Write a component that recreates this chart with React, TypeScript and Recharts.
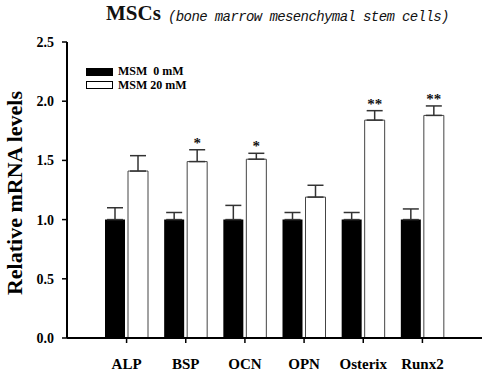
import React from 'react';
import {
  BarChart,
  Bar,
  XAxis,
  YAxis,
  ErrorBar,
  Legend,
  LabelList,
} from 'recharts';

// 遺伝子ごとの相対 mRNA 量
const genes = ['ALP', 'BSP', 'OCN', 'OPN', 'Osterix', 'Runx2'];
const msm0 = [1.0, 1.0, 1.0, 1.0, 1.0, 1.0];
const msm0Err = [0.1, 0.06, 0.12, 0.06, 0.06, 0.09];
const msm20 = [1.41, 1.49, 1.51, 1.19, 1.84, 1.88];
const msm20Err = [0.13, 0.1, 0.05, 0.1, 0.08, 0.08];
const signif = ['', '*', '*', '', '**', '**'];
const yTicks = [0, 0.5, 1.0, 1.5, 2.0, 2.5];

const SERIF = '"Liberation Serif", "Times New Roman", serif';

const data = genes.map((name, i) => ({
  name,
  msm0: msm0[i],
  msm0Err: [0, msm0Err[i]],
  msm20: msm20[i],
  msm20Err: [0, msm20Err[i]],
  sig: signif[i],
}));

// 凡例（プロット内の左上）
const renderLegend = () => (
  <div style={{ fontFamily: SERIF, fontWeight: 'bold', fontSize: 12, color: '#000' }}>
    {[
      { label: 'MSM\u00a0\u00a00 mM', fill: '#000' },
      { label: 'MSM 20 mM', fill: '#fff' },
    ].map((item) => (
      <div key={item.label} style={{ display: 'flex', alignItems: 'center', height: 13.5 }}>
        <span
          style={{
            display: 'inline-block',
            width: 25,
            height: 6,
            background: item.fill,
            border: '1px solid #000',
            marginRight: 5,
          }}
        />
        <span style={{ whiteSpace: 'pre' }}>{item.label}</span>
      </div>
    ))}
  </div>
);

// 有意差の星印（エラーバーの上）
const renderStars = (props: any) => {
  const { x, y, width, height, value, index } = props;
  if (!value) return null;
  const errTop = y - (height * msm20Err[index]) / msm20[index];
  return (
    <text
      x={x + width / 2}
      y={errTop - 2}
      textAnchor="middle"
      fontFamily={SERIF}
      fontWeight="bold"
      fontSize={15}
      fill="#111"
    >
      {value}
    </text>
  );
};

export default function App() {
  return (
    <div style={{ position: 'absolute', left: 0, top: 0, width: 490, height: 382, background: '#fff' }}>
      <svg width={490} height={36} style={{ position: 'absolute', left: 0, top: 0 }}>
        <text x={106} y={20} fontFamily={SERIF} fontWeight="bold" fontSize={21} fill="#111">
          MSCs
        </text>
        <text
          x={168}
          y={21}
          fontFamily='"Liberation Mono", "DejaVu Sans Mono", monospace'
          fontStyle="italic"
          fontSize={14}
          letterSpacing={-0.6}
          fill="#111"
        >
          (bone marrow mesenchymal stem cells)
        </text>
      </svg>
      <BarChart
        width={490}
        height={382}
        data={data}
        margin={{ top: 42, right: 8, bottom: 14, left: 10 }}
        barSize={20}
        barGap={3}
      >
        <XAxis
          dataKey="name"
          padding={{ left: 30, right: 30 }}
          axisLine={{ stroke: '#000', strokeWidth: 2 }}
          tickLine={{ stroke: '#000', strokeWidth: 1.5 }}
          tickSize={5}
          tickMargin={15}
          height={30}
          interval={0}
          tick={{ fontFamily: SERIF, fontWeight: 'bold', fontSize: 15, fill: '#000' }}
        />
        <XAxis
          xAxisId="top"
          orientation="top"
          dataKey="name"
          height={0}
          tick={false}
          tickLine={false}
          axisLine={{ stroke: '#000', strokeWidth: 2 }}
        />
        <YAxis
          domain={[0, 2.5]}
          ticks={yTicks}
          width={57}
          axisLine={{ stroke: '#000', strokeWidth: 2 }}
          tickLine={{ stroke: '#000', strokeWidth: 1.5 }}
          tickSize={5}
          tickMargin={8}
          tickFormatter={(v: number) => v.toFixed(1)}
          tick={{ fontFamily: SERIF, fontWeight: 'bold', fontSize: 14, fill: '#000' }}
          label={{
            content: (p: any) => {
              const vb = p.viewBox;
              const cx = vb.x + 4;
              const cy = vb.y + vb.height / 2 + 3;
              return (
                <text
                  x={cx}
                  y={cy}
                  transform={`rotate(-90, ${cx}, ${cy})`}
                  textAnchor="middle"
                  dominantBaseline="central"
                  fontFamily={SERIF}
                  fontWeight="bold"
                  fontSize={22}
                  fill="#000"
                >
                  Relative mRNA levels
                </text>
              );
            },
          }}
        />
        <YAxis
          yAxisId="right"
          orientation="right"
          domain={[0, 2.5]}
          width={0}
          tick={false}
          tickLine={false}
          axisLine={{ stroke: '#000', strokeWidth: 2 }}
        />
        <Legend
          layout="vertical"
          align="center"
          verticalAlign="middle"
          wrapperStyle={{ left: 86, top: 65, width: 120 }}
          content={renderLegend}
        />
        <Bar dataKey="msm0" name="MSM 0 mM" fill="#000" isAnimationActive={false}>
          <ErrorBar dataKey="msm0Err" width={8} stroke="#333" strokeWidth={1.5} direction="y" />
        </Bar>
        <Bar
          dataKey="msm20"
          name="MSM 20 mM"
          fill="#fff"
          stroke="#444"
          strokeWidth={1}
          isAnimationActive={false}
        >
          <ErrorBar dataKey="msm20Err" width={8} stroke="#333" strokeWidth={1.5} direction="y" />
          <LabelList dataKey="sig" content={renderStars} />
        </Bar>
      </BarChart>
    </div>
  );
}
